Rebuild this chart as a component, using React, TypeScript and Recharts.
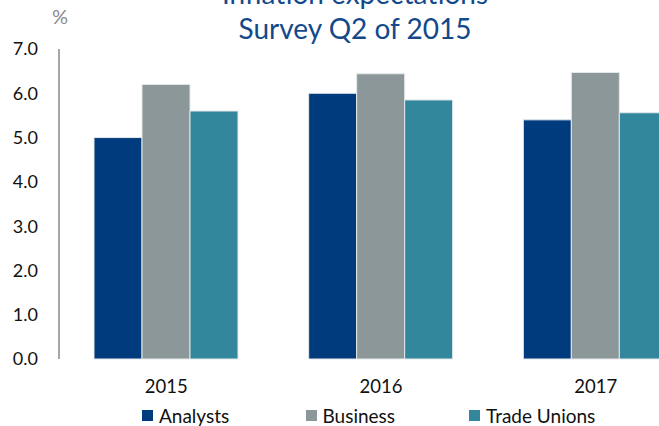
/** Inflation expectations – Survey Q2 of 2015 */
import { Bar, BarChart, Legend, XAxis, YAxis } from 'recharts'

const YEARS = ['2015', '2016', '2017']
const ANALYSTS = [5.0, 6.0, 5.4]
const BUSINESS = [6.2, 6.44, 6.47]
const TRADE_UNIONS = [5.6, 5.85, 5.56]
const Y_TICKS = [0, 1, 2, 3, 4, 5, 6, 7]

const SERIES = [
  { key: 'analysts', name: 'Analysts', color: '#003b7d' },
  { key: 'business', name: 'Business', color: '#8b9798' },
  { key: 'unions', name: 'Trade Unions', color: '#33879d' },
]

const FONT = 'Lato, "Open Sans", sans-serif'
const TITLE_COLOR = '#13498b'

const data = YEARS.map((y, i) => ({
  year: y,
  analysts: ANALYSTS[i],
  business: BUSINESS[i],
  unions: TRADE_UNIONS[i],
}))

function LegendRow({ payload }: { payload?: Array<{ value: string; color: string }> }) {
  return (
    <div style={{ display: 'flex', paddingLeft: 142, fontFamily: FONT, fontSize: 19, color: '#111' }}>
      {(payload ?? []).map((p) => (
        <div key={p.value} style={{ width: 163.5, display: 'flex', alignItems: 'center' }}>
          <span style={{ width: 11, height: 11, background: p.color, marginRight: 6, display: 'inline-block' }} />
          <span>{p.value}</span>
        </div>
      ))}
    </div>
  )
}

export default function App() {
  return (
    <div
      style={{
        position: 'absolute',
        left: 0,
        top: 0,
        width: 659,
        height: 426,
        overflow: 'hidden',
        background: '#fff',
      }}
    >
      <div
        style={{
          position: 'absolute',
          left: 155,
          width: 400,
          top: -24,
          textAlign: 'center',
          fontFamily: FONT,
          fontSize: 28,
          lineHeight: '35px',
          color: TITLE_COLOR,
        }}
      >
        <div>Inflation expectations</div>
        <div>Survey Q2 of 2015</div>
      </div>
      <div
        style={{
          position: 'absolute',
          left: 52,
          top: 4,
          fontFamily: FONT,
          fontSize: 20,
          color: '#8a8a8a',
        }}
      >
        %
      </div>
      <BarChart
        width={720}
        height={426}
        data={data}
        margin={{ top: 49, right: 17, left: 0, bottom: 27 }}
        barGap={0}
      >
        <XAxis
          dataKey="year"
          axisLine={false}
          tickLine={false}
          tickSize={0}
          tickMargin={21}
          height={40}
          tick={{ fontSize: 18.5, fill: '#111', fontFamily: FONT }}
        />
        <YAxis
          domain={[0, 7]}
          ticks={Y_TICKS}
          width={59}
          tickSize={0}
          tickMargin={21}
          tickLine={false}
          axisLine={{ stroke: '#888', strokeWidth: 1.5 }}
          tickFormatter={(v: number) => v.toFixed(1)}
          tick={{ fontSize: 18, fill: '#111', fontFamily: FONT }}
          interval={0}
        />
        <Legend
          layout="horizontal"
          verticalAlign="middle"
          align="center"
          wrapperStyle={{ top: 404, left: 0, width: 659 }}
          content={(props: any) => <LegendRow payload={props.payload} />}
        />
        {SERIES.map((s) => (
          <Bar
            key={s.key}
            dataKey={s.key}
            name={s.name}
            fill={s.color}
            barSize={48}
            stroke="#e4e8ea"
            strokeWidth={1}
            isAnimationActive={false}
          />
        ))}
      </BarChart>
    </div>
  )
}
